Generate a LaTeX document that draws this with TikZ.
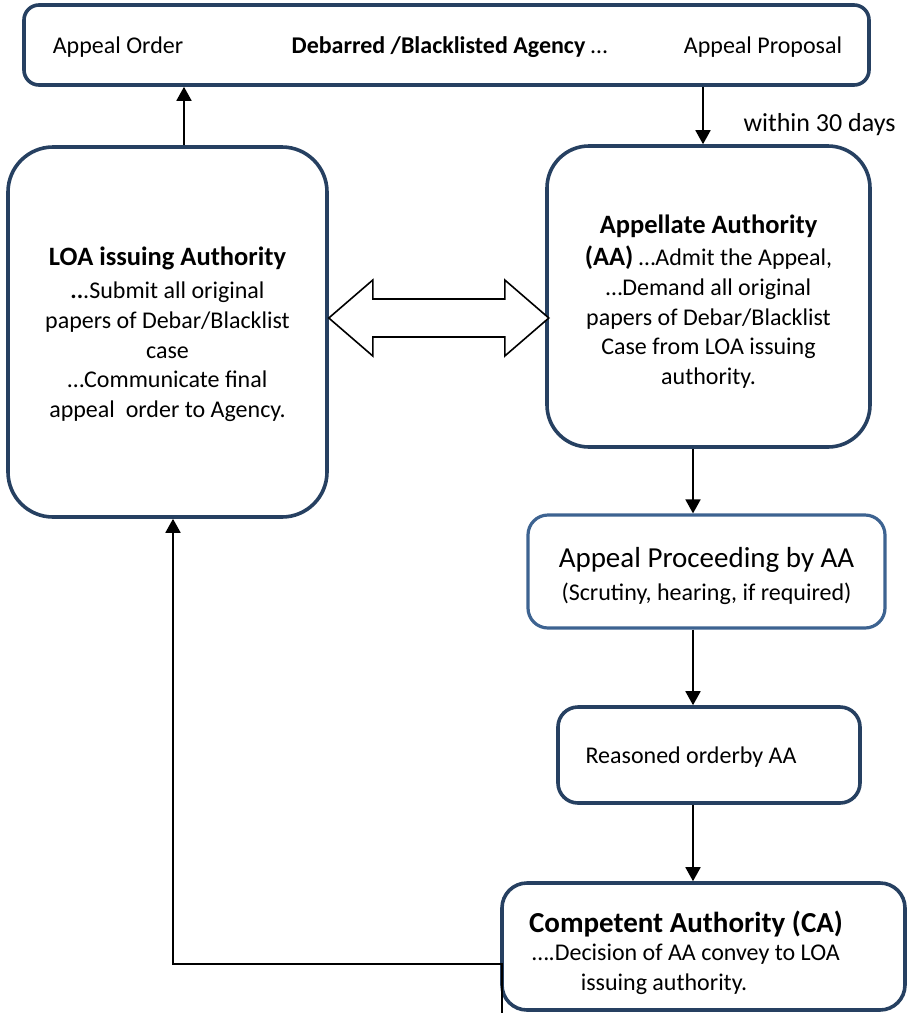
\documentclass[tikz,border=0pt]{standalone}
\usepackage{fontspec}
\setmainfont{Carlito}
\usetikzlibrary{arrows.meta,calc}
\definecolor{navy}{RGB}{38,64,97}
\definecolor{steel}{RGB}{61,99,145}
\newcommand{\bodyf}{\fontsize{24}{29.6}\selectfont}
\newcommand{\headf}{\fontsize{26.5}{32}\selectfont\bfseries}
\begin{document}
\begin{tikzpicture}[x=1pt,y=-1pt,
  box/.style={draw=navy, line width=3.6pt, fill=white, rounded corners=#1, inner sep=0pt, align=center, font=\bodyf},
  txt/.style={inner sep=0pt, align=center, font=\bodyf},
  arr/.style={line width=1.8pt, -{Triangle[width=15pt,length=14pt]}},
  dblarrow/.style={draw=black, line width=1.6pt, fill=white, line join=miter}
]
\useasboundingbox (0,0) rectangle (906,1013);

% boxes
\node[box=15pt, minimum width=845pt, minimum height=80pt] (agency) at (446.5,45) {};
\node[txt, font=\bodyf\bfseries] (agname) at (449.5,47) {Debarred /Blacklisted Agency \mdseries …};
\node[txt] (apord) at (118,47) {Appeal Order};
\node[txt] (approp) at (763,47) {Appeal Proposal};

\node[box=45pt, minimum width=319pt, minimum height=370pt] (loa) at (167.5,332) {};
\node[txt] (loatext) at (167.5,334)
  {{\headf LOA issuing Authority}\\[4pt]
   \textbf{..}.Submit all original\\
   papers of Debar/Blacklist\\
   case\\
   …Communicate final\\
   appeal\ \ order to Agency.};

\node[box=42pt, minimum width=323pt, minimum height=301pt] (aa) at (708.5,296.5) {};
\node[txt] (aatext) at (708.5,301.5)
  {{\headf Appellate Authority}\\[3pt]
   {\headf (AA)} …Admit the Appeal,\\
   …Demand all original\\
   papers of Debar/Blacklist\\
   Case from LOA issuing\\
   authority.};

\node[box=20pt, draw=steel, line width=3.2pt, minimum width=357pt, minimum height=113pt] (proc) at (706.5,571.5) {};
\node[txt] (proctext) at (706.5,576)
  {{\fontsize{29}{35}\selectfont Appeal Proceeding by AA}\\[3pt]
   (Scrutiny, hearing, if required)};

\node[box=20pt, minimum width=302pt, minimum height=96pt] (reas) at (709,755) {};
\node[txt] (reastext) at (691,757) {Reasoned orderby AA};

\node[box=25pt, minimum width=403pt, minimum height=127pt] (ca) at (703.5,946.5) {};
\node[txt] (catext) at (686,953)
  {{\fontsize{29}{35}\selectfont\bfseries Competent Authority (CA)}\\[-2pt]
   ….Decision of AA convey to LOA\\[1pt]
   issuing authority.\hspace*{44pt}};

\node[txt, font=\fontsize{26}{31}\selectfont] (within) at (819.5,125) {within 30 days};

% connectors
\coordinate (upx) at (184,0);
\coordinate (dnx) at (703,0);
\coordinate (colx) at (693,0);
\draw[arr] (loa.north -| upx) -- (agency.south -| upx);
\draw[arr] (agency.south -| dnx) -- (aa.north -| dnx);
\draw[arr] (aa.south -| colx) -- (proc.north -| colx);
\draw[arr] (proc.south -| colx) -- (reas.north -| colx);
\draw[arr] (reas.south -| colx) -- (ca.north -| colx);

\coordinate (tail) at (502,1013);
\coordinate (fbc) at (173,964);
\draw[arr] (tail) -- (tail |- fbc) -- (fbc) -- (loa.south -| fbc);

% double arrow between LOA and AA
\coordinate (dal) at ($(loa.east)+(0,-14)$);
\draw[dblarrow] (dal) -- ++(44,-38) -- ++(0,19) -- ++(132,0) -- ++(0,-19) -- ++(44,38)
  -- ++(-44,38) -- ++(0,-19) -- ++(-132,0) -- ++(0,19) -- cycle;
\end{tikzpicture}
\end{document}
